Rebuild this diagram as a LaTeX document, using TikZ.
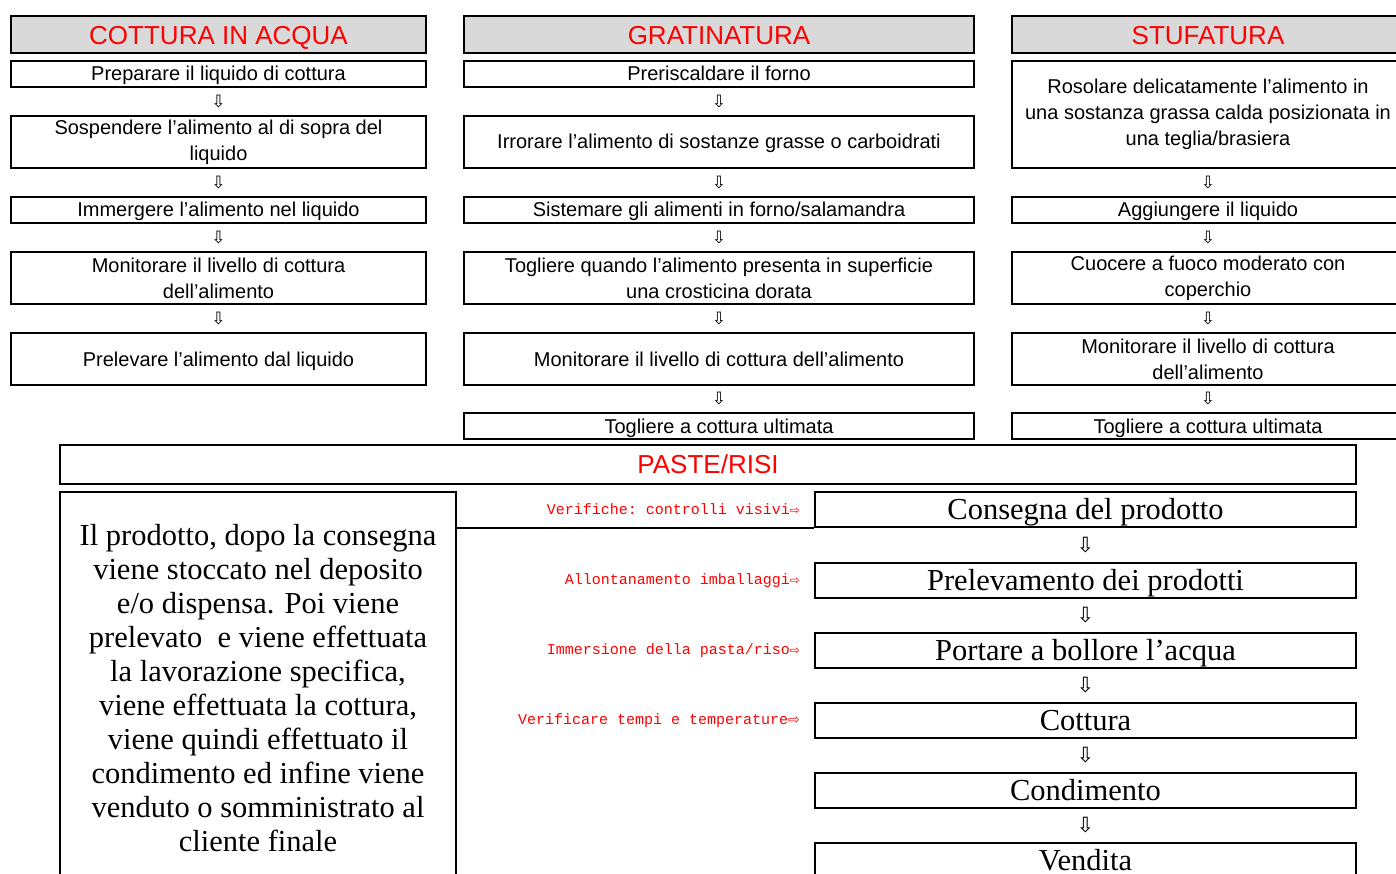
\documentclass[tikz,border=0pt]{standalone}
\usepackage{fontspec}
\setmainfont{Liberation Serif}
\setsansfont{Liberation Sans}
\setmonofont{Liberation Mono}
\newfontfamily\symfont{DejaVu Sans}
\usetikzlibrary{calc,positioning}
\definecolor{hdgray}{RGB}{217,217,217}
\definecolor{hdred}{RGB}{255,0,0}

\begin{document}
\begin{tikzpicture}[x=1pt,y=-1pt,
  stepbox/.style={draw,line width=1.8pt,inner sep=0pt,align=center,
    font=\sffamily\fontsize{20}{26}\selectfont},
  oneline/.style={text height=17pt,text depth=3pt},
  headbox/.style={stepbox,fill=hdgray,text=hdred,minimum height=37pt,
    text height=21pt,text depth=0pt,
    font=\sffamily\fontsize{26}{30}\selectfont},
  colA/.style={minimum width=415pt},
  colB/.style={minimum width=510pt},
  colC/.style={minimum width=392pt},
  downsym/.style={inner sep=0pt,font=\symfont\fontsize{17}{17}\selectfont},
  bigdown/.style={inner sep=0pt,font=\symfont\fontsize{21}{21}\selectfont},
  pastebox/.style={draw,line width=1.8pt,inner sep=0pt,align=center,
    minimum width=541pt,minimum height=35pt,text height=25pt,text depth=6pt,
    font=\rmfamily\fontsize{30.5}{34}\selectfont},
  checknote/.style={inner sep=0pt,text=hdred,font=\ttfamily\fontsize{15}{15}\selectfont}
]
\useasboundingbox (0,0) rectangle (1396,874);

% Cottura in acqua
\node[headbox,colA] (a0) at (218.5,34.5) {COTTURA IN ACQUA};
\node[stepbox,oneline,colA,minimum height=26pt] (a1) at (218.5,74) {Preparare il liquido di cottura};
\node[stepbox,colA,minimum height=52pt] (a2) at (218.5,142) {Sospendere l’alimento al di sopra del\\liquido};
\node[stepbox,oneline,colA,minimum height=26pt] (a3) at (218.5,210) {Immergere l’alimento nel liquido};
\node[stepbox,colA,minimum height=52pt] (a4) at (218.5,278) {Monitorare il livello di cottura\\dell’alimento};
\node[stepbox,oneline,colA,minimum height=52pt] (a5) at (218.5,359) {Prelevare l’alimento dal liquido};

% Gratinatura
\node[headbox,colB] (b0) at (719,34.5) {GRATINATURA};
\node[stepbox,oneline,colB,minimum height=26pt] (b1) at (719,74) {Preriscaldare il forno};
\node[stepbox,oneline,colB,minimum height=52pt] (b2) at (719,142) {Irrorare l’alimento di sostanze grasse o carboidrati};
\node[stepbox,oneline,colB,minimum height=26pt] (b3) at (719,210) {Sistemare gli alimenti in forno/salamandra};
\node[stepbox,colB,minimum height=52pt] (b4) at (719,278) {Togliere quando l’alimento presenta in superficie\\una crosticina dorata};
\node[stepbox,oneline,colB,minimum height=52pt] (b5) at (719,359) {Monitorare il livello di cottura dell’alimento};
\node[stepbox,oneline,colB,minimum height=26pt] (b6) at (719,426) {Togliere a cottura ultimata};

% Stufatura
\node[headbox,colC] (c0) at (1208,34.5) {STUFATURA};
\node[stepbox,colC,minimum height=107pt] (c1) at (1208,114.5) {Rosolare delicatamente l’alimento in\\una sostanza grassa calda posizionata in\\una teglia/brasiera};
\node[stepbox,oneline,colC,minimum height=26pt] (c3) at (1208,210) {Aggiungere il liquido};
\node[stepbox,colC,minimum height=52pt] (c4) at (1208,278) {Cuocere a fuoco moderato con\\coperchio};
\node[stepbox,colC,minimum height=52pt] (c5) at (1208,359) {Monitorare il livello di cottura\\dell’alimento};
\node[stepbox,oneline,colC,minimum height=26pt] (c6) at (1208,426) {Togliere a cottura ultimata};

% frecce tra i passi
\foreach \u/\v in {a1/a2,a2/a3,a3/a4,a4/a5,b1/b2,b2/b3,b3/b4,b4/b5,b5/b6,c1/c3,c3/c4,c4/c5,c5/c6}
  \node[downsym] at ($(\u.south)!0.5!(\v.north)$) {⇩};

% Paste/risi
\node[draw,line width=2.6pt,inner sep=0pt,minimum width=1296pt,minimum height=39pt,
  text=hdred,font=\sffamily\fontsize{26}{30}\selectfont] (pr) at (708,464.5) {PASTE/RISI};
\node[draw,line width=1.8pt,inner sep=0pt,minimum width=396pt,minimum height=392pt,
  align=center,font=\rmfamily\fontsize{30.5}{34}\selectfont] (txt) at (258,688)
  {Il prodotto, dopo la consegna\\viene stoccato nel deposito\\e/o dispensa. Poi viene\\prelevato\ \ e viene effettuata\\la lavorazione specifica,\\viene effettuata la cottura,\\viene quindi effettuato il\\condimento ed infine viene\\venduto o somministrato al\\cliente finale};

\node[pastebox] (p1) at (1085.5,509.5) {Consegna del prodotto};
\node[pastebox] (p2) at (1085.5,580.5) {Prelevamento dei prodotti};
\node[pastebox] (p3) at (1085.5,650.5) {Portare a bollore l’acqua};
\node[pastebox] (p4) at (1085.5,720.5) {Cottura};
\node[pastebox] (p5) at (1085.5,790.5) {Condimento};
\node[pastebox] (p6) at (1085.5,860.5) {Vendita};
\foreach \u/\v in {p1/p2,p2/p3,p3/p4,p4/p5,p5/p6}
  \node[bigdown] at ($(\u.south)!0.5!(\v.north)$) {⇩};

\draw[line width=1.8pt] (txt.east |- p1.south west) -- (p1.south west);

% controlli
\node[checknote,left=14pt of p1] (n1) {Verifiche: controlli visivi{\symfont\fontsize{12}{12}\selectfont ⇨}};
\node[checknote,left=14pt of p2] (n2) {Allontanamento imballaggi{\symfont\fontsize{12}{12}\selectfont ⇨}};
\node[checknote,left=14pt of p3] (n3) {Immersione della pasta/riso{\symfont\fontsize{12}{12}\selectfont ⇨}};
\node[checknote,left=14pt of p4] (n4) {Verificare tempi e temperature{\symfont\fontsize{14}{14}\selectfont ⇨}};
\end{tikzpicture}
\end{document}
